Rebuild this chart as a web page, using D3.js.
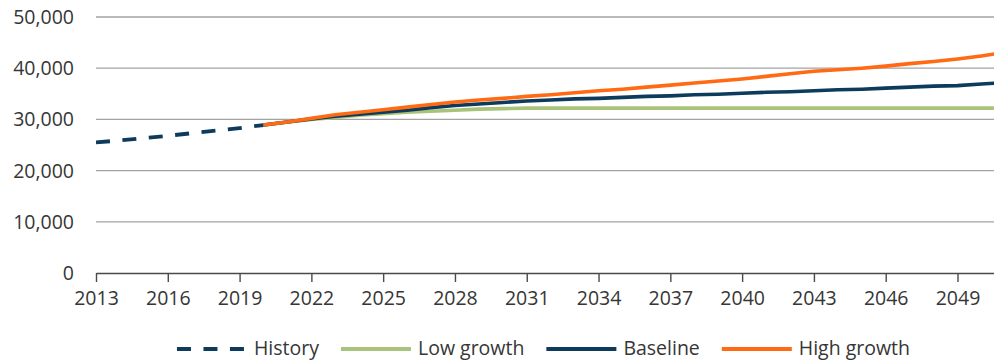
<!DOCTYPE html>
<html>
<head>
<meta charset="utf-8">
<script src="https://cdn.jsdelivr.net/npm/d3@7/dist/d3.min.js"></script>
<style>
  html, body { margin: 0; padding: 0; background: #fff; }
  svg { display: block; }
  text { font-family: "Open Sans", "Noto Sans", sans-serif; fill: #363636; }
</style>
</head>
<body>
<svg id="chart" width="994" height="361"></svg>
<script>
// Population series (persons), yearly
const historyYears = [2013, 2014, 2015, 2016, 2017, 2018, 2019, 2020];
const historyValues = [25500, 25900, 26350, 26800, 27300, 27800, 28300, 28900];

const projYears = [2020, 2021, 2022, 2023, 2024, 2025, 2026, 2027, 2028, 2029, 2030,
  2031, 2032, 2033, 2034, 2035, 2036, 2037, 2038, 2039, 2040,
  2041, 2042, 2043, 2044, 2045, 2046, 2047, 2048, 2049, 2050, 2051];

const lowGrowth = [28900, 29500, 30000, 30400, 30800, 31100, 31400, 31600, 31800, 32000, 32100,
  32200, 32200, 32200, 32200, 32200, 32200, 32200, 32200, 32200, 32200,
  32200, 32200, 32200, 32200, 32200, 32200, 32200, 32200, 32200, 32200, 32200];

const baseline = [28900, 29500, 30100, 30600, 31000, 31400, 31800, 32300, 32700, 33000, 33300,
  33600, 33800, 34000, 34100, 34300, 34500, 34600, 34800, 34900, 35100,
  35300, 35400, 35600, 35800, 35900, 36100, 36300, 36500, 36600, 36900, 37200];

const highGrowth = [28900, 29500, 30200, 30900, 31400, 31900, 32400, 32900, 33400, 33800, 34100,
  34500, 34800, 35200, 35600, 35900, 36300, 36700, 37100, 37500, 37900,
  38400, 38900, 39400, 39700, 40000, 40400, 40900, 41300, 41800, 42400, 43100];

const yTicks = [0, 10000, 20000, 30000, 40000, 50000];
const xTicks = [2013, 2016, 2019, 2022, 2025, 2028, 2031, 2034, 2037, 2040, 2043, 2046, 2049];

const legendItems = [
  { label: "History", color: "#0d3b5c", dash: "14,12.5" },
  { label: "Low growth", color: "#a9c47a", dash: null },
  { label: "Baseline", color: "#0d3b5c", dash: null },
  { label: "High growth", color: "#ff6a13", dash: null }
];

const svg = d3.select("#chart");
const plot = { left: 96, right: 994, top: 17, bottom: 273 };

const x = d3.scaleLinear().domain([2013, 2050.525]).range([plot.left, plot.right]);
const y = d3.scaleLinear().domain([0, 50000]).range([plot.bottom, plot.top]);

svg.append("defs").append("clipPath").attr("id", "plotClip")
  .append("rect").attr("x", plot.left).attr("y", 0)
  .attr("width", plot.right - plot.left).attr("height", plot.bottom + 5);

// horizontal gridlines
svg.append("g")
  .selectAll("line")
  .data(yTicks.filter(d => d > 0))
  .join("line")
  .attr("x1", plot.left).attr("x2", plot.right)
  .attr("y1", d => y(d)).attr("y2", d => y(d))
  .attr("stroke", "#a3a3a3").attr("stroke-width", 1.3);

// y axis labels
const fmt = d3.format(",");
svg.append("g")
  .selectAll("text")
  .data(yTicks)
  .join("text")
  .attr("x", 74).attr("y", d => y(d))
  .attr("dy", "0.36em")
  .attr("text-anchor", "end")
  .style("font-size", "19.5px")
  .text(d => fmt(d));

// x axis
const xAxis = d3.axisBottom(x)
  .tickValues(xTicks)
  .tickFormat(d3.format("d"))
  .tickSize(9)
  .tickPadding(9)
  .tickSizeOuter(0);

const gx = svg.append("g")
  .attr("transform", `translate(0,${plot.bottom})`)
  .call(xAxis);
gx.select(".domain").attr("stroke", "#4a4a4a").attr("stroke-width", 1.4);
gx.selectAll(".tick line").attr("stroke", "#4a4a4a").attr("stroke-width", 1.4);
gx.selectAll(".tick text")
  .style("font-size", "19.5px")
  .style("font-family", "'Open Sans', 'Noto Sans', sans-serif")
  .attr("fill", "#363636");

// series lines
const lineGen = (years) => d3.line()
  .x((d, i) => x(years[i]))
  .y(d => y(d));

const lines = svg.append("g").attr("clip-path", "url(#plotClip)");

lines.append("path")
  .datum(historyValues)
  .attr("d", lineGen(historyYears))
  .attr("fill", "none")
  .attr("stroke", legendItems[0].color)
  .attr("stroke-width", 3.8)
  .attr("stroke-dasharray", legendItems[0].dash);

[[lowGrowth, legendItems[1].color], [baseline, legendItems[2].color], [highGrowth, legendItems[3].color]]
  .forEach(([vals, color]) => {
    lines.append("path")
      .datum(vals)
      .attr("d", lineGen(projYears))
      .attr("fill", "none")
      .attr("stroke", color)
      .attr("stroke-width", 3.6)
      .attr("stroke-linejoin", "round");
  });

// legend
const legendY = 349;
const sampleLen = 70, textGap = 7, itemGap = 22;
const legend = svg.append("g");
const items = legend.selectAll("g")
  .data(legendItems)
  .join("g");

items.append("text")
  .attr("y", legendY)
  .attr("dy", "0.33em")
  .style("font-size", "19.5px")
  .text(d => d.label);

const widths = [];
items.select("text").each(function () { widths.push(this.getComputedTextLength()); });
const total = d3.sum(widths) + legendItems.length * (sampleLen + textGap) + (legendItems.length - 1) * itemGap;
let cx = (176 + 911) / 2 - total / 2;
items.each(function (d, i) {
  const g = d3.select(this);
  g.insert("line", "text")
    .attr("x1", cx).attr("x2", cx + sampleLen)
    .attr("y1", legendY).attr("y2", legendY)
    .attr("stroke", d.color)
    .attr("stroke-width", 3.8)
    .attr("stroke-dasharray", d.dash);
  g.select("text").attr("x", cx + sampleLen + textGap);
  cx += sampleLen + textGap + widths[i] + itemGap;
});
</script>
</body>
</html>
